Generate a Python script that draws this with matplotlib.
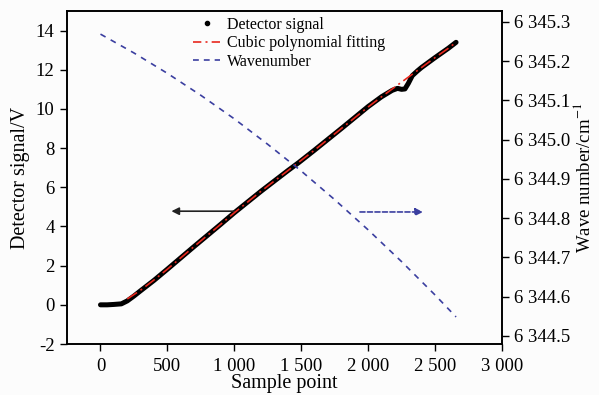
import matplotlib
matplotlib.use("Agg")
import matplotlib.pyplot as plt
from matplotlib.lines import Line2D
from matplotlib.ticker import FuncFormatter

plt.rcParams['font.family'] = ['Liberation Serif', 'DejaVu Serif']
plt.rcParams['mathtext.fontset'] = 'stix'

# Detector signal (V) vs sample point
sig_x = [0, 50, 100, 156, 200, 250, 300, 400, 500, 600, 700, 800, 900, 1000,
         1200, 1400, 1481, 1600, 1800, 2000, 2100, 2180, 2220, 2250, 2275,
         2300, 2330, 2370, 2400, 2500, 2600, 2657]
sig_y = [0.0, 0.0, 0.02, 0.05, 0.2, 0.45, 0.72, 1.25, 1.82, 2.4, 2.98, 3.55,
         4.12, 4.7, 5.8, 6.85, 7.26, 7.9, 9.0, 10.12, 10.62, 10.95, 11.05,
         11.0, 11.02, 11.3, 11.7, 11.95, 12.12, 12.62, 13.1, 13.4]

# Cubic polynomial fitting
fit_x = [200, 300, 400, 500, 600, 700, 800, 900, 1000, 1200, 1400, 1600,
         1800, 2000, 2100, 2200, 2300, 2400, 2500, 2600, 2657]
fit_y = [0.3, 0.75, 1.27, 1.82, 2.4, 2.98, 3.55, 4.12, 4.7, 5.8, 6.85, 7.9,
         9.0, 10.1, 10.62, 11.12, 11.62, 12.12, 12.62, 13.1, 13.4]

# Wavenumber (cm^-1)
wn_x = [0, 250, 500, 750, 1000, 1250, 1500, 1750, 2000, 2250, 2500, 2657]
wn_y = [6345.269, 6345.221, 6345.169, 6345.113, 6345.053, 6344.988,
        6344.920, 6344.847, 6344.770, 6344.689, 6344.604, 6344.548]

xticks = [0, 500, 1000, 1500, 2000, 2500, 3000]
yticks_left = [-2, 0, 2, 4, 6, 8, 10, 12, 14]
yticks_right = [6344.5, 6344.6, 6344.7, 6344.8, 6344.9, 6345.0, 6345.1, 6345.2, 6345.3]

blue = '#3b3fa0'
red = '#e8281e'

fig = plt.figure(figsize=(5.99, 3.95), dpi=100)
fig.patch.set_facecolor('#fcfcfc')
ax = fig.add_axes([0.1119, 0.1291, 0.7261, 0.8431])
ax.set_facecolor('#fcfcfc')
ax2 = ax.twinx()

ax.plot(sig_x, sig_y, color='black', lw=3.6, solid_capstyle='round',
        solid_joinstyle='round', zorder=3)
ax.plot(fit_x, fit_y, color=red, lw=1.2, linestyle=(0, (7, 2.5, 1.2, 2.5)),
        zorder=4)
ax2.plot(wn_x, wn_y, color=blue, lw=1.2, linestyle=(0, (3.5, 3.5)))

ax.set_xlim(-250, 3000)
ax.set_ylim(-2, 15)
ax2.set_ylim(6344.479, 6345.328)

ax.set_xticks(xticks)
ax.set_yticks(yticks_left)
ax2.set_yticks(yticks_right)


def thousands(v, pos):
    return f"{int(round(v)):,}".replace(",", " ")


def wn_fmt(v, pos):
    return f"{v:,.1f}".replace(",", " ")


ax.xaxis.set_major_formatter(FuncFormatter(thousands))
ax.yaxis.set_major_formatter(FuncFormatter(lambda v, p: f"{int(v)}"))
ax2.yaxis.set_major_formatter(FuncFormatter(wn_fmt))

for a in (ax, ax2):
    a.tick_params(direction='out', length=5, width=1.0, labelsize=13.5, pad=4)
ax.tick_params(axis='x', pad=5)
for sp in ax.spines.values():
    sp.set_linewidth(1.2)
for sp in ax2.spines.values():
    sp.set_linewidth(1.2)

ax.set_xlabel('Sample point', fontsize=14.5, labelpad=-1)
ax.set_ylabel('Detector signal/V', fontsize=14.5, labelpad=4)
ax2.set_ylabel('Wave number/cm$^{-1}$', fontsize=13.5, labelpad=2)

# arrows
ax.annotate('', xy=(530, 4.78), xytext=(1000, 4.78),
            arrowprops=dict(arrowstyle='-|>', color='#222222', lw=1.2,
                            mutation_scale=11, shrinkA=0, shrinkB=0))
ax.annotate('', xy=(2410, 4.74), xytext=(1939, 4.74),
            arrowprops=dict(arrowstyle='-|>', color=blue, lw=1.2,
                            linestyle=(0, (3, 1.5)),
                            mutation_scale=11, shrinkA=0, shrinkB=0))

handles = [
    Line2D([], [], color='black', marker='o', markersize=3, linestyle='None'),
    Line2D([], [], color=red, lw=1.2, linestyle=(0, (5, 2.5, 1.2, 2.5))),
    Line2D([], [], color=blue, lw=1.2, linestyle=(0, (3.5, 3))),
]
labels = ['Detector signal', 'Cubic polynomial fitting', 'Wavenumber']
leg = ax.legend(handles, labels, loc='upper left',
                bbox_to_anchor=(193 / 599, 1 - 17 / 395),
                bbox_transform=fig.transFigure,
                frameon=False, fontsize=11.5, handlelength=1.7,
                handletextpad=0.45, labelspacing=0.15, borderaxespad=0,
                borderpad=0)

fig.savefig('out.png', dpi=100, facecolor=fig.get_facecolor())
